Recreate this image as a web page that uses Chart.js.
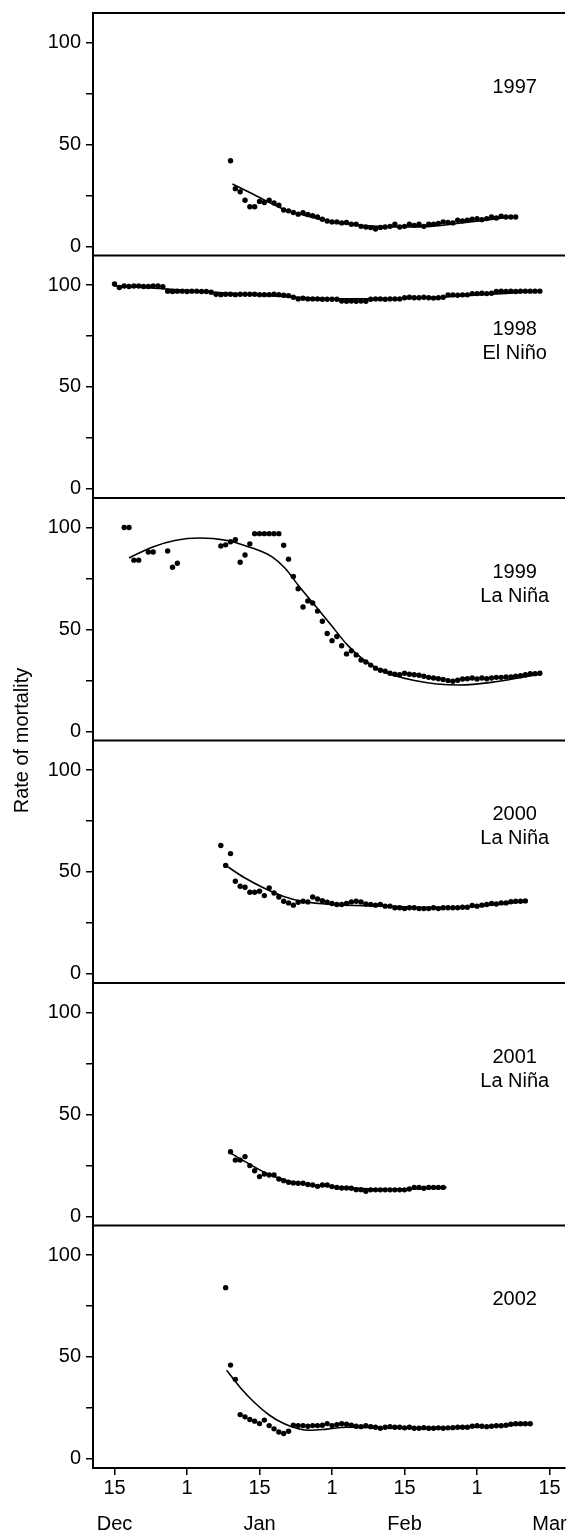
<!DOCTYPE html>
<html lang="en">
<head>
  <meta charset="UTF-8" />
  <title>Rate of mortality</title>
  <script src="https://cdn.jsdelivr.net/npm/chart.js"></script>
  <style>
    html, body { margin: 0; padding: 0; background: #fff; }
    #wrap { width: 569px; height: 1533px; }
  </style>
</head>
<body>
  <div id="wrap"><canvas id="mortality"></canvas></div>

  <script>
    // panels, top to bottom
    const years = ["1997", "1998", "1999", "2000", "2001", "2002"];
    const panelNotes = [["1997"], ["1998", "El Niño"], ["1999", "La Niña"], ["2000", "La Niña"], ["2001", "La Niña"], ["2002"]];

    // x is in days counted from 15 Dec, one tick every 15
    const xTickDays = [0, 15, 30, 45, 60, 75, 90];
    const xTickLabels = ["15", "1", "15", "1", "15", "1", "15"];
    const monthLabels = ["Dec", "", "Jan", "", "Feb", "", "Mar"];
    const yTickValues = [0, 25, 50, 75, 100];
    const yTickLabels = ["0", "", "50", "", "100"];

    // daily observations (first day of each series in dotStart)
    const dotStart = [24, 0, 2, 22, 24, 23];
    const dots1997 = [42, 28.3, 26.8, 22.6, 19.4, 19.4, 22, 21.5, 22.6, 21.3, 20.2, 17.8, 17.4, 16.6, 15.8, 16.5, 15.6, 15, 14.4, 13.3,
      12.4, 12, 12, 11.5, 11.7, 10.8, 10.8, 9.8, 9.5, 9.2, 8.5, 9.3, 9.5, 9.8, 10.8, 9.5, 9.8, 10.8, 10.3, 10.8,
      9.8, 10.8, 10.8, 11.2, 12, 11.7, 11.5, 12.8, 12.5, 12.8, 13.3, 13.6, 13.1, 13.6, 14.4, 13.9, 14.8, 14.4, 14.4, 14.4];
    const dots1998 = [100.5, 98.8, 99.5, 99.3, 99.5, 99.5, 99.3, 99.3, 99.6, 99.6, 99.2, 97, 96.8, 97, 97, 96.8, 97, 97, 96.8, 96.8,
      96.5, 95.5, 95.3, 95.5, 95.5, 95.3, 95.5, 95.5, 95.5, 95.5, 95.3, 95.3, 95.3, 95.5, 95.3, 95, 94.8, 94, 93.2, 93.5,
      93.2, 93.2, 93.2, 93, 93, 93, 93, 92.2, 92, 92.2, 92, 92.2, 92, 93, 93.2, 93.2, 93, 93.2, 93.2, 93.2,
      93.8, 94, 93.8, 93.8, 94, 93.8, 93.6, 93.8, 94, 95.2, 95.2, 95, 95.2, 95.2, 95.8, 95.8, 96, 95.8, 96, 96.8,
      97, 96.8, 97, 96.8, 97, 97, 97, 97, 97];
    const dots1999 = [100, 100, 84, 84, null, 88, 88, null, null, 88.5, 80.5, 82.5,
      null, null, null, null, null, null, null, null,
      91, 91.5, 93, 94, 83, 86.5, 92, 97, 97, 97, 97, 97, 97, 91.3, 84.5, 76, 70, 61, 64, 63,
      59, 54, 48, 44.5, 46.5, 42, 38, 39.5, 37.5, 35, 34, 32.5, 31, 30, 29.5, 28.5, 28, 27.8, 28.5, 28,
      27.8, 27.5, 27, 26.5, 26.2, 25.8, 25.4, 24.9, 24.6, 25.1, 25.7, 25.8, 26.2, 25.7, 26.2, 25.8, 26.2, 26.5, 26.5, 26.7,
      26.7, 27, 27.3, 27.8, 28.3, 28.3, 28.5];
    const dots2000 = [63, 53.2, 59, 45.4, 43, 42.5, 40, 40, 40.5, 38.4, 42.2, 39.7, 37.7, 35.6, 34.8, 33.7, 35.1, 35.6, 35.3, 37.7,
      36.7, 35.9, 35.1, 34.5, 34, 34, 34.5, 35.3, 35.6, 35.3, 34.3, 34, 33.7, 34, 33.2, 33.2, 32.4, 32.4, 32, 32.4,
      32.4, 32, 32, 32, 32.4, 32, 32.4, 32.4, 32.4, 32.4, 32.7, 32.7, 33.5, 33.2, 33.7, 34, 34.5, 34.3, 34.8, 34.8,
      35.4, 35.6, 35.6, 35.8];
    const dots2001 = [31.7, 27.6, 27.6, 29.3, 24.9, 22.4, 19.5, 20.8, 20.3, 20.3, 18.3, 17.5, 16.7, 16.4, 16.2, 16.2, 15.6, 15.4, 14.7, 15.4,
      15.4, 14.6, 14.2, 13.9, 13.9, 13.8, 13.1, 13.1, 12.3, 13, 13, 13, 13, 13, 13, 13, 13, 13.4, 14.2, 14.2,
      13.8, 14.2, 14.2, 14.2, 14.2];
    const dots2002 = [84, 46, 39, 21.7, 20.6, 19.3, 18.5, 17.3, 19, 16.3, 14.7, 13.2, 12.4, 13.5, 16.5, 16.3, 16.3, 16, 16.3, 16.3,
      16.5, 17.3, 16.3, 16.8, 17.2, 17, 16.5, 16, 15.8, 16.2, 15.8, 15.5, 15, 15.5, 15.8, 15.5, 15.5, 15.2, 15.5, 15,
      15, 15.3, 15, 15, 15.2, 15, 15.2, 15.3, 15.5, 15.5, 15.5, 16, 16.2, 16, 15.8, 16, 16.2, 16.2, 16.5, 17,
      17.2, 17.2, 17.2, 17.2];
    const dotValues = [dots1997, dots1998, dots1999, dots2000, dots2001, dots2002];

    // fitted curves
    const fitDays1997 = [24.4, 28.5, 31.9, 35.3, 39.4, 43.5, 49, 54.4, 59.9, 65.4, 70.8, 76.3, 83.1];
    const fitVals1997 = [30.6, 25.8, 21.7, 18, 15.2, 12.7, 10.8, 9.8, 9.5, 9.8, 11.2, 12.7, 14.7];
    const fitDays1998 = [0, 10, 20, 30, 40, 50, 60, 70, 80, 88];
    const fitVals1998 = [99.6, 98.2, 96.6, 95, 93.8, 93.2, 93.4, 94.4, 95.8, 97];
    const fitDays1999 = [3, 7.9, 12.7, 17.5, 23, 27.8, 32.6, 35.3, 38, 41.4, 44.8, 48.2, 51.6, 55, 61.8, 71.3, 78.8, 87.7];
    const fitVals1999 = [85.1, 90.5, 93.8, 94.9, 93.8, 90.5, 85.6, 80, 71.7, 62, 52.2, 42.3, 35, 30, 25.1, 22.7, 24.3, 27.9];
    const fitDays2000 = [23, 27, 31, 35, 39, 45, 55, 65, 75, 85];
    const fitVals2000 = [53.2, 47, 42, 38, 35.5, 34, 33.3, 32.6, 33.2, 35.5];
    const fitDays2001 = [24, 28, 32, 36, 42, 50, 58, 68.7];
    const fitVals2001 = [31, 25.5, 20.5, 17.3, 15.2, 13.8, 13.3, 14.2];
    const fitDays2002 = [23.2, 26, 29, 32, 35, 38, 40.5, 44, 48, 55, 65, 75, 86];
    const fitVals2002 = [43.5, 35, 27.5, 21.5, 17.3, 14.8, 14, 14.6, 15.5, 15.3, 15, 15.6, 17];
    const fitDays = [fitDays1997, fitDays1998, fitDays1999, fitDays2000, fitDays2001, fitDays2002];
    const fitValues = [fitVals1997, fitVals1998, fitVals1999, fitVals2000, fitVals2001, fitVals2002];

    const noteDay = 82.8;
    const noteValue = 78;

    Chart.defaults.font.family = "'Liberation Sans', Arial, sans-serif";
    Chart.defaults.color = "#000";

    const datasets = [];
    years.forEach((yr, i) => {
      datasets.push({
        type: "scatter",
        label: yr,
        yAxisID: "y" + yr,
        data: dotValues[i].map((v, k) => ({ x: dotStart[i] + k, y: v })).filter((p) => p.y !== null),
        pointRadius: 2.7,
        pointBackgroundColor: "#000",
        pointBorderWidth: 0,
        showLine: false,
      });
      datasets.push({
        type: "line",
        label: yr + " fit",
        yAxisID: "y" + yr,
        data: fitDays[i].map((d, k) => ({ x: d, y: fitValues[i][k] })),
        borderColor: "#000",
        borderWidth: 1.6,
        pointRadius: 0,
        cubicInterpolationMode: "monotone",
        fill: false,
      });
    });

    const scales = {
      x: {
        type: "linear",
        position: "bottom",
        min: -4.45,
        max: 93.2,
        border: { display: true, color: "#000", width: 2 },
        grid: { drawOnChartArea: false, tickLength: 7, color: "#000", lineWidth: 1.5 },
        ticks: {
          autoSkip: false,
          maxRotation: 0,
          padding: 4,
          font: { size: 20, lineHeight: "18px" },
          callback: (v, i) => (monthLabels[i] ? [xTickLabels[i], "", monthLabels[i]] : xTickLabels[i]),
        },
        afterBuildTicks: (s) => { s.ticks = xTickDays.map((v) => ({ value: v })); },
        afterFit: (s) => { s.height = 65; s.paddingLeft = 0; s.paddingRight = 0; },
      },
    };

    years.forEach((yr, i) => {
      scales["y" + yr] = {
        type: "linear",
        position: "left",
        stack: "panels",
        stackWeight: 1,
        weight: years.length - i,
        min: -4.5,
        max: 114.5,
        border: { display: true, color: "#000", width: 2 },
        grid: { drawOnChartArea: false, tickLength: 7, color: "#000", lineWidth: 1.5 },
        ticks: {
          autoSkip: false,
          padding: 5,
          font: { size: 20 },
          callback: (v, k) => yTickLabels[k],
        },
        afterBuildTicks: (s) => { s.ticks = yTickValues.map((v) => ({ value: v })); },
        afterFit: (s) => { s.width = 53; s.paddingTop = 0; s.paddingBottom = 0; },
      };
    });

    // only carries the shared axis title
    scales.yTitle = {
      type: "linear",
      position: "left",
      weight: 10,
      grid: { display: false },
      border: { display: false },
      ticks: { display: false },
      title: { display: true, text: "Rate of mortality", font: { size: 20 }, padding: { top: 10, bottom: 0 } },
      afterFit: (s) => { s.width = 40; s.paddingTop = 0; s.paddingBottom = 0; },
    };

    const panelFrame = {
      id: "panelFrame",
      afterDatasetsDraw(chart) {
        const { ctx, chartArea } = chart;
        const xs = chart.scales.x;
        ctx.save();
        ctx.strokeStyle = "#000";
        ctx.lineWidth = 2;
        years.forEach((yr) => {
          const s = chart.scales["y" + yr];
          ctx.beginPath();
          ctx.moveTo(chartArea.left - 1, s.top);
          ctx.lineTo(chartArea.right, s.top);
          ctx.stroke();
        });
        ctx.fillStyle = "#000";
        ctx.font = "20px 'Liberation Sans', Arial, sans-serif";
        ctx.textAlign = "center";
        ctx.textBaseline = "middle";
        years.forEach((yr, i) => {
          const s = chart.scales["y" + yr];
          const x = xs.getPixelForValue(noteDay);
          const y0 = s.getPixelForValue(noteValue);
          panelNotes[i].forEach((t, k) => ctx.fillText(t, x, y0 + k * 24));
        });
        ctx.restore();
      },
    };

    new Chart(document.getElementById("mortality"), {
      type: "scatter",
      data: { datasets },
      options: {
        responsive: true,
        maintainAspectRatio: false,
        animation: false,
        layout: { padding: { top: 13, left: 0, right: 0, bottom: 0 } },
        scales,
        plugins: {
          legend: { display: false },
          tooltip: { enabled: false },
        },
      },
      plugins: [panelFrame],
    });
  </script>
</body>
</html>
